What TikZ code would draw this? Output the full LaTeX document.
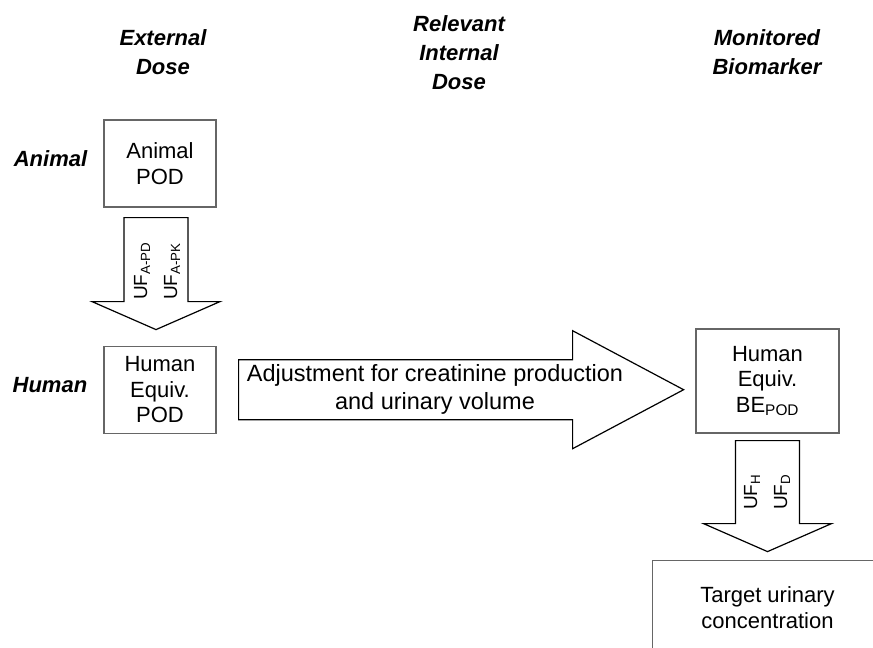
\documentclass[tikz,border=0pt]{standalone}
\usepackage{fontspec}
\setmainfont{Liberation Sans}
\usetikzlibrary{positioning, calc}

\tikzset{
    % Boxes
    podbox/.style={
        draw=black!60, line width=1.2pt, align=center,
        font=\fontsize{22}{25.5}\selectfont,
        minimum width=112pt, minimum height=87pt, inner sep=2pt
    },
    % Column and row headings
    colhead/.style={align=center, font=\fontsize{22}{29}\selectfont\bfseries\itshape},
    rowhead/.style={inner sep=0pt, font=\fontsize{22}{26}\selectfont\bfseries\itshape},
    % Fat arrows and their texts
    fatarrow/.style={draw=black, line width=1.2pt, line join=miter, fill=white},
    uflabel/.style={rotate=90, anchor=base west, inner sep=0pt, font=\fontsize{19}{22}\selectfont},
    arrowtext/.style={align=center, font=\fontsize{23.5}{28}\selectfont},
}

\begin{document}
\begin{tikzpicture}[x=1pt, y=-1pt]
\useasboundingbox (0,0) rectangle (873,648);
\clip (0,0) rectangle (873,648);

% Column headings
\node (exthead) [colhead] at (163,52) {External\\Dose};
\node (inthead) [colhead] at (459,53) {Relevant\\Internal\\Dose};
\node (monhead) [colhead] at (767,52) {Monitored\\Biomarker};

% Boxes
\node (animal) [podbox] at (160,163.5) {Animal\\POD};
\node (human) [podbox, below=138pt of animal] {Human\\Equiv.\\POD};
\node (bepod) [podbox, minimum width=143pt, minimum height=104pt] at (767.5,381) {Human\\Equiv.\\BE\textsubscript{POD}};
\node (target) [podbox, minimum width=230pt, minimum height=95pt, below=126pt of bepod] {Target urinary\\concentration};

% Row headings
\node (animallbl) [rowhead, left=16pt of animal, yshift=5pt] {Animal};
\node (humanlbl) [rowhead, left=16pt of human, yshift=5pt] {Human};

% Fat arrows
\draw[fatarrow] ($(animal.south)+(-36,10)$) -- ++(0,84) -- ++(-32,0) -- ($(animal.south)+(-4,122)$)
    -- ($(animal.south)+(60,94)$) -- ++(-32,0) -- ++(0,-84) -- cycle;
\draw[fatarrow] ($(human.east)+(22,-30)$) -- ++(334,0) -- ++(0,-29) -- ($(human.east)+(467,0)$)
    -- ($(human.east)+(356,59)$) -- ++(0,-29) -- ++(-334,0) -- cycle;
\draw[fatarrow] ($(bepod.south)+(-32,7)$) -- ++(0,83) -- ++(-32,0) -- ($(bepod.south)+(0,118)$)
    -- ($(bepod.south)+(64,90)$) -- ++(-32,0) -- ++(0,-83) -- cycle;

% Arrow texts
\node (ufapd) [uflabel] at (147,300) {UF\textsubscript{A-PD}};
\node (ufapk) [uflabel] at (177,300) {UF\textsubscript{A-PK}};
\node (adjtext) [arrowtext] at (435,389) {Adjustment for creatinine production\\and urinary volume};
\node (ufh) [uflabel] at (757,510) {UF\textsubscript{H}};
\node (ufd) [uflabel] at (787,510) {UF\textsubscript{D}};

\end{tikzpicture}
\end{document}
